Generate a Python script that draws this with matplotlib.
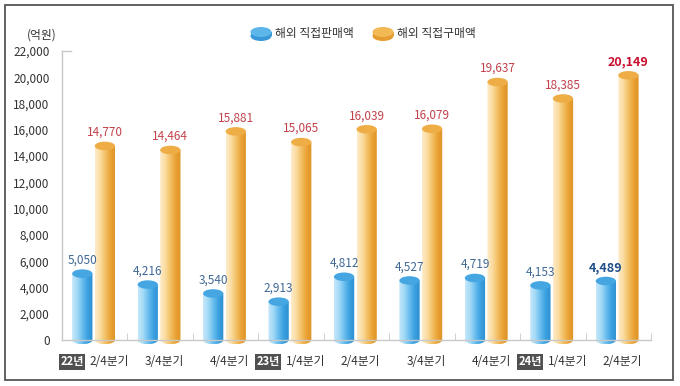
import numpy as np
import matplotlib
matplotlib.use('Agg')
import matplotlib.pyplot as plt
from matplotlib.colors import LinearSegmentedColormap
from matplotlib.patches import Ellipse, Rectangle, PathPatch
from matplotlib.path import Path
from matplotlib.transforms import IdentityTransform

plt.rcParams['font.family'] = ['Noto Sans CJK KR', 'DejaVu Sans']

# data (억원)
years    = ['22년', '', '', '23년', '', '', '', '24년', '']
quarters = ['2/4분기', '3/4분기', '4/4분기', '1/4분기', '2/4분기',
            '3/4분기', '4/4분기', '1/4분기', '2/4분기']
sales    = [5050, 4216, 3540, 2913, 4812, 4527, 4719, 4153, 4489]      # 해외 직접판매액
purchase = [14770, 14464, 15881, 15065, 16039, 16079, 19637, 18385, 20149]  # 해외 직접구매액
yticks   = list(range(0, 22001, 2000))

BLUE_CM = LinearSegmentedColormap.from_list(
    'b', ['#c4e7fb', '#a2d9f6', '#68bdee', '#3aa0e0', '#2f8fd0'])
ORANGE_CM = LinearSegmentedColormap.from_list(
    'o', ['#fdeccb', '#fbdca0', '#f3bf64', '#e9a234', '#de9326'])
BLUE_TOP, ORANGE_TOP = '#45a6e2', '#efad45'

EH = 650      # ellipse height in data units
W = 0.31      # bar width
OFF_B, OFF_O = -0.19, 0.155


def cylinder(ax, xc, h, cmap, top):
    x0, x1 = xc - W / 2, xc + W / 2
    t = np.linspace(np.pi, 2 * np.pi, 40)
    verts = [(x0, h)] + list(zip(xc + W / 2 * np.cos(t), EH / 2 * np.sin(t))) + [(x1, h), (x0, h)]
    clip = PathPatch(Path(verts, closed=True), facecolor='none', edgecolor='none')
    ax.add_patch(clip)
    im = ax.imshow(np.linspace(0, 1, 64).reshape(1, -1), cmap=cmap, aspect='auto',
                   extent=[x0, x1, -EH / 2, h], origin='lower', zorder=2)
    im.set_clip_path(clip)
    ax.add_patch(Ellipse((xc, h), W, EH, facecolor=top, edgecolor='none', zorder=3))


fig = plt.figure(figsize=(6.8, 3.86), dpi=100)
ax = fig.add_axes([62 / 680, 1 - 345 / 386, 589 / 680, (345 - 51) / 386])

x = np.arange(len(quarters))
for i in x:
    cylinder(ax, i + OFF_B, sales[i], BLUE_CM, BLUE_TOP)
    cylinder(ax, i + OFF_O, purchase[i], ORANGE_CM, ORANGE_TOP)

last = len(x) - 1
for i in x:
    bold = i == last
    ax.annotate(f'{sales[i]:,}', (i + OFF_B, sales[i]), xytext=(0, 7),
                textcoords='offset pixels', ha='center', va='bottom',
                fontsize=9 if bold else 8.5, fontweight='bold' if bold else 'normal',
                color='#1f4f8a' if bold else '#3f6896')
    ax.annotate(f'{purchase[i]:,}', (i + OFF_O, purchase[i]), xytext=(0, 7),
                textcoords='offset pixels', ha='center', va='bottom',
                fontsize=9 if bold else 8.5, fontweight='bold' if bold else 'normal',
                color='#c8102e' if bold else '#c2414b')

# category labels
for i in x:
    if years[i]:
        ax.annotate(years[i], (i, 0), xytext=(-11, -22), textcoords='offset pixels',
                    ha='right', va='center', fontsize=8, fontweight='bold', color='white',
                    bbox=dict(boxstyle='square,pad=0.12', facecolor='#505050', edgecolor='none'),
                    annotation_clip=False)
        ax.annotate(quarters[i], (i, 0), xytext=(-5, -22), textcoords='offset pixels',
                    ha='left', va='center', fontsize=8.5, color='#333333',
                    annotation_clip=False)
    else:
        ax.annotate(quarters[i], (i, 0), xytext=(4, -22), textcoords='offset pixels',
                    ha='center', va='center', fontsize=8.5, color='#333333',
                    annotation_clip=False)

ax.set_xlim(-0.5, 8.5)
ax.set_ylim(-EH / 2 - 60, 22000)
ax.set_yticks(yticks)
ax.set_yticklabels([f'{v:,}' for v in yticks], fontsize=8.5, color='#333333')
ax.tick_params(axis='y', length=0, pad=9)
ax.set_xticks([])
ax.set_xticks(np.arange(0.5, 8.6, 1), minor=True)
ax.tick_params(axis='x', which='minor', direction='in', length=5, color='#c8c8c8')
for s in ['top', 'right']:
    ax.spines[s].set_visible(False)
ax.spines['bottom'].set_position(('data', 0))
ax.spines['left'].set_bounds(0, 22000)
for s in ['bottom', 'left']:
    ax.spines[s].set_color('#c8c8c8')
    ax.spines[s].set_linewidth(1)
ax.axhline(22000, xmin=0, xmax=0.015, color='#c8c8c8', lw=1, clip_on=False)
ax.patch.set_alpha(0)

fig.text(42 / 680, 1 - 35 / 386, '(억원)', ha='center', va='center', fontsize=8.5, color='#333333')

# legend
def disk(cx, cy, side, top):
    tr = IdentityTransform()
    fig.add_artist(Ellipse((cx, cy - 3), 21, 10, facecolor=side, edgecolor='none', transform=tr))
    fig.add_artist(Rectangle((cx - 10.5, cy - 3), 21, 4, facecolor=side, edgecolor='none', transform=tr))
    fig.add_artist(Ellipse((cx, cy + 1), 21, 10, facecolor=top, edgecolor='none', transform=tr))

disk(261, 386 - 33, '#3a98d8', '#5db6ea')
disk(383, 386 - 33, '#e59c30', '#f2b954')
fig.text(275 / 680, 1 - 33 / 386, '해외 직접판매액', ha='left', va='center', fontsize=8.5, color='#333333')
fig.text(397 / 680, 1 - 33 / 386, '해외 직접구매액', ha='left', va='center', fontsize=8.5, color='#333333')

# outer frame
fig.add_artist(Rectangle((5, 386 - 380), 668, 375, facecolor='none', edgecolor='#555555',
                         lw=1.3, transform=IdentityTransform()))

fig.savefig('out.png', dpi=100)
